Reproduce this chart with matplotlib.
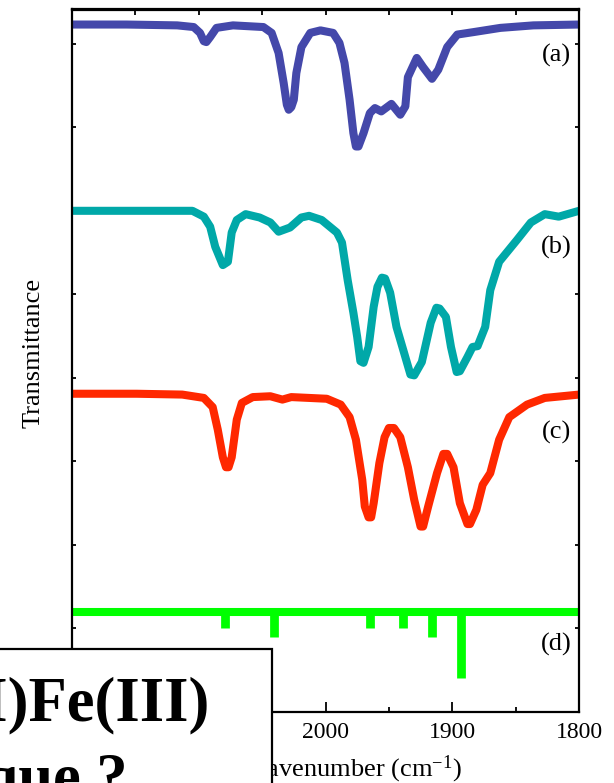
import numpy as np
import matplotlib
matplotlib.use("Agg")
import matplotlib.pyplot as plt
from matplotlib.patches import Rectangle

plt.rcParams['font.family'] = ['Liberation Serif', 'DejaVu Serif']
plt.rcParams['mathtext.fontset'] = 'custom'
plt.rcParams['mathtext.rm'] = 'Liberation Serif'
plt.rcParams['mathtext.it'] = 'Liberation Serif:italic'

# ---- data (wavenumber in cm-1, transmittance in arbitrary offset units) ----
wn_a = [2200, 2157, 2117, 2104, 2099, 2096, 2094, 2091, 2086, 2073, 2049, 2042.5, 2037, 2033,
        2030.5, 2029, 2027, 2025, 2023, 2019, 2012, 2004, 1994, 1989, 1985, 1981, 1978, 1976,
        1974, 1970, 1965, 1961, 1956, 1948, 1941, 1937, 1935, 1928, 1923, 1916, 1911, 1904,
        1896, 1883, 1862, 1836, 1800]
t_a = [8.23, 8.23, 8.22, 8.20, 8.13, 8.03, 8.02, 8.08, 8.19, 8.22, 8.20, 8.13, 7.89, 7.53,
       7.27, 7.21, 7.24, 7.33, 7.65, 7.96, 8.13, 8.16, 8.13, 8.01, 7.77, 7.33, 6.93, 6.77,
       6.77, 6.93, 7.17, 7.23, 7.19, 7.28, 7.15, 7.25, 7.60, 7.83, 7.72, 7.58, 7.69, 7.96,
       8.11, 8.14, 8.19, 8.22, 8.23]

wn_b = [2200, 2141, 2105, 2096, 2091, 2087, 2081, 2077, 2074, 2070, 2063, 2052, 2043.5, 2037,
        2028, 2019, 2013, 2003, 1991, 1987, 1982.5, 1978, 1975, 1972.5, 1970, 1966, 1962, 1959,
        1955.5, 1953, 1949, 1944, 1938, 1933, 1930, 1924, 1917, 1912.5, 1910, 1905, 1901, 1896.5,
        1894, 1888, 1884, 1880, 1874, 1870, 1863, 1849, 1838, 1827, 1816, 1800]
t_b = [6.00, 6.00, 6.00, 5.93, 5.81, 5.57, 5.35, 5.39, 5.74, 5.89, 5.96, 5.92, 5.86, 5.75,
       5.80, 5.92, 5.94, 5.89, 5.74, 5.62, 5.17, 4.78, 4.49, 4.20, 4.18, 4.37, 4.85, 5.09,
       5.20, 5.19, 5.02, 4.61, 4.30, 4.04, 4.03, 4.19, 4.66, 4.84, 4.83, 4.73, 4.37, 4.07,
       4.08, 4.25, 4.37, 4.38, 4.61, 5.05, 5.39, 5.65, 5.86, 5.96, 5.93, 6.00]

wn_c = [2200, 2149, 2113, 2096, 2089, 2085, 2081, 2078.5, 2076.5, 2074, 2070, 2066, 2057.4,
        2043.5, 2034, 2027, 1999, 1988, 1981, 1976, 1971, 1969, 1966, 1964, 1962, 1957.5,
        1953.4, 1950, 1946, 1941, 1935, 1930, 1925, 1923, 1919, 1912, 1907, 1904, 1899, 1894,
        1888, 1886, 1881, 1876, 1870, 1863, 1855, 1841, 1827, 1800]
t_c = [3.81, 3.81, 3.80, 3.76, 3.65, 3.38, 3.05, 2.93, 2.93, 3.05, 3.50, 3.70, 3.77,
       3.78, 3.74, 3.77, 3.75, 3.68, 3.53, 3.26, 2.78, 2.46, 2.33, 2.33, 2.50, 2.98,
       3.29, 3.40, 3.40, 3.29, 2.93, 2.54, 2.22, 2.22, 2.46, 2.86, 3.09, 3.09, 2.93, 2.50,
       2.25, 2.25, 2.42, 2.72, 2.86, 3.26, 3.53, 3.68, 3.76, 3.80]

d_base = 1.20
d_pos = [2079, 2041, 1965, 1939, 1916, 1893]
d_int = [0.19, 0.30, 0.19, 0.19, 0.30, 0.79]

labels = ['(a)', '(b)', '(c)', '(d)']
label_y = [7.86, 5.56, 3.35, 0.81]

x_major = [2200, 2100, 2000, 1900, 1800]
x_major_labels = ['', '', '2000', '1900', '1800']   # left ones are hidden by the box

# ---- figure ----
fig = plt.figure(figsize=(6.14, 7.83), dpi=100)
ax = fig.add_axes([72/614, 1 - 712/783, (579 - 72)/614, (712 - 9.5)/783])

lw = 5.8
kw = dict(lw=lw, solid_joinstyle='round', solid_capstyle='butt')
ax.plot(wn_a, t_a, color='#4448AA', **kw)
ax.plot(wn_b, t_b, color='#00A8A8', **kw)
ax.plot(wn_c, t_c, color='#FF2800', **kw)
ax.plot([2200, 1800], [d_base, d_base], color='#00FF00', lw=lw, solid_capstyle='butt')
ax.vlines(d_pos, [d_base] * len(d_pos), [d_base - v for v in d_int], color='#00FF00',
          lw=6.3, capstyle='butt')

for lab, yy in zip(labels, label_y):
    ax.text(1818, yy, lab, ha='center', va='center', fontsize=19)

ax.set_xlim(2200, 1800)
ax.set_ylim(0, 8.41)
ax.set_xticks(x_major)
ax.set_xticklabels(x_major_labels)
ax.set_xticks([2150, 2050, 1950, 1850], minor=True)
ax.set_yticks(range(0, 9))
ax.tick_params(axis='x', which='major', direction='in', length=7.5, width=1.3,
               labelsize=17, pad=7, top=False)
ax.tick_params(axis='x', which='minor', direction='in', length=3.5, width=1.3, top=False)
ax.tick_params(axis='y', direction='in', length=3, width=1.3, left=True, right=True,
               labelleft=False)
for sp in ax.spines.values():
    sp.set_linewidth(1.6)

sec = ax.secondary_xaxis('top')
sec.set_xticks(list(range(1800, 2201, 50)))
sec.set_xticklabels([])
sec.tick_params(direction='in', length=4.3, width=1.3)
sec.spines['top'].set_linewidth(1.6)

# axis titles
fig.text(462/614, 1 - 776/783, r'Wavenumber (cm$^{\mathrm{-1}}$)', ha='right',
         va='baseline', fontsize=19)
fig.text(34/614, 1 - 353/783, 'Transmittance', rotation=90, ha='center', va='center',
         fontsize=19)

# overlaid box
box = Rectangle((-0.05, -0.05), 0.05 + 272/614, 0.05 + (783 - 649)/783,
                transform=fig.transFigure, facecolor='white', edgecolor='black',
                lw=1.6, zorder=10)
fig.patches.append(box)
fig.text(210/614, 1 - 720/783, 'Fe(II)Fe(III)', ha='right', va='baseline',
         fontsize=45, fontweight='bold', zorder=11)
fig.text(128/614, 1 - 797/783, 'magnétique ?', ha='right', va='baseline',
         fontsize=45, fontweight='bold', zorder=11)

fig.savefig('out.png', dpi=100)
